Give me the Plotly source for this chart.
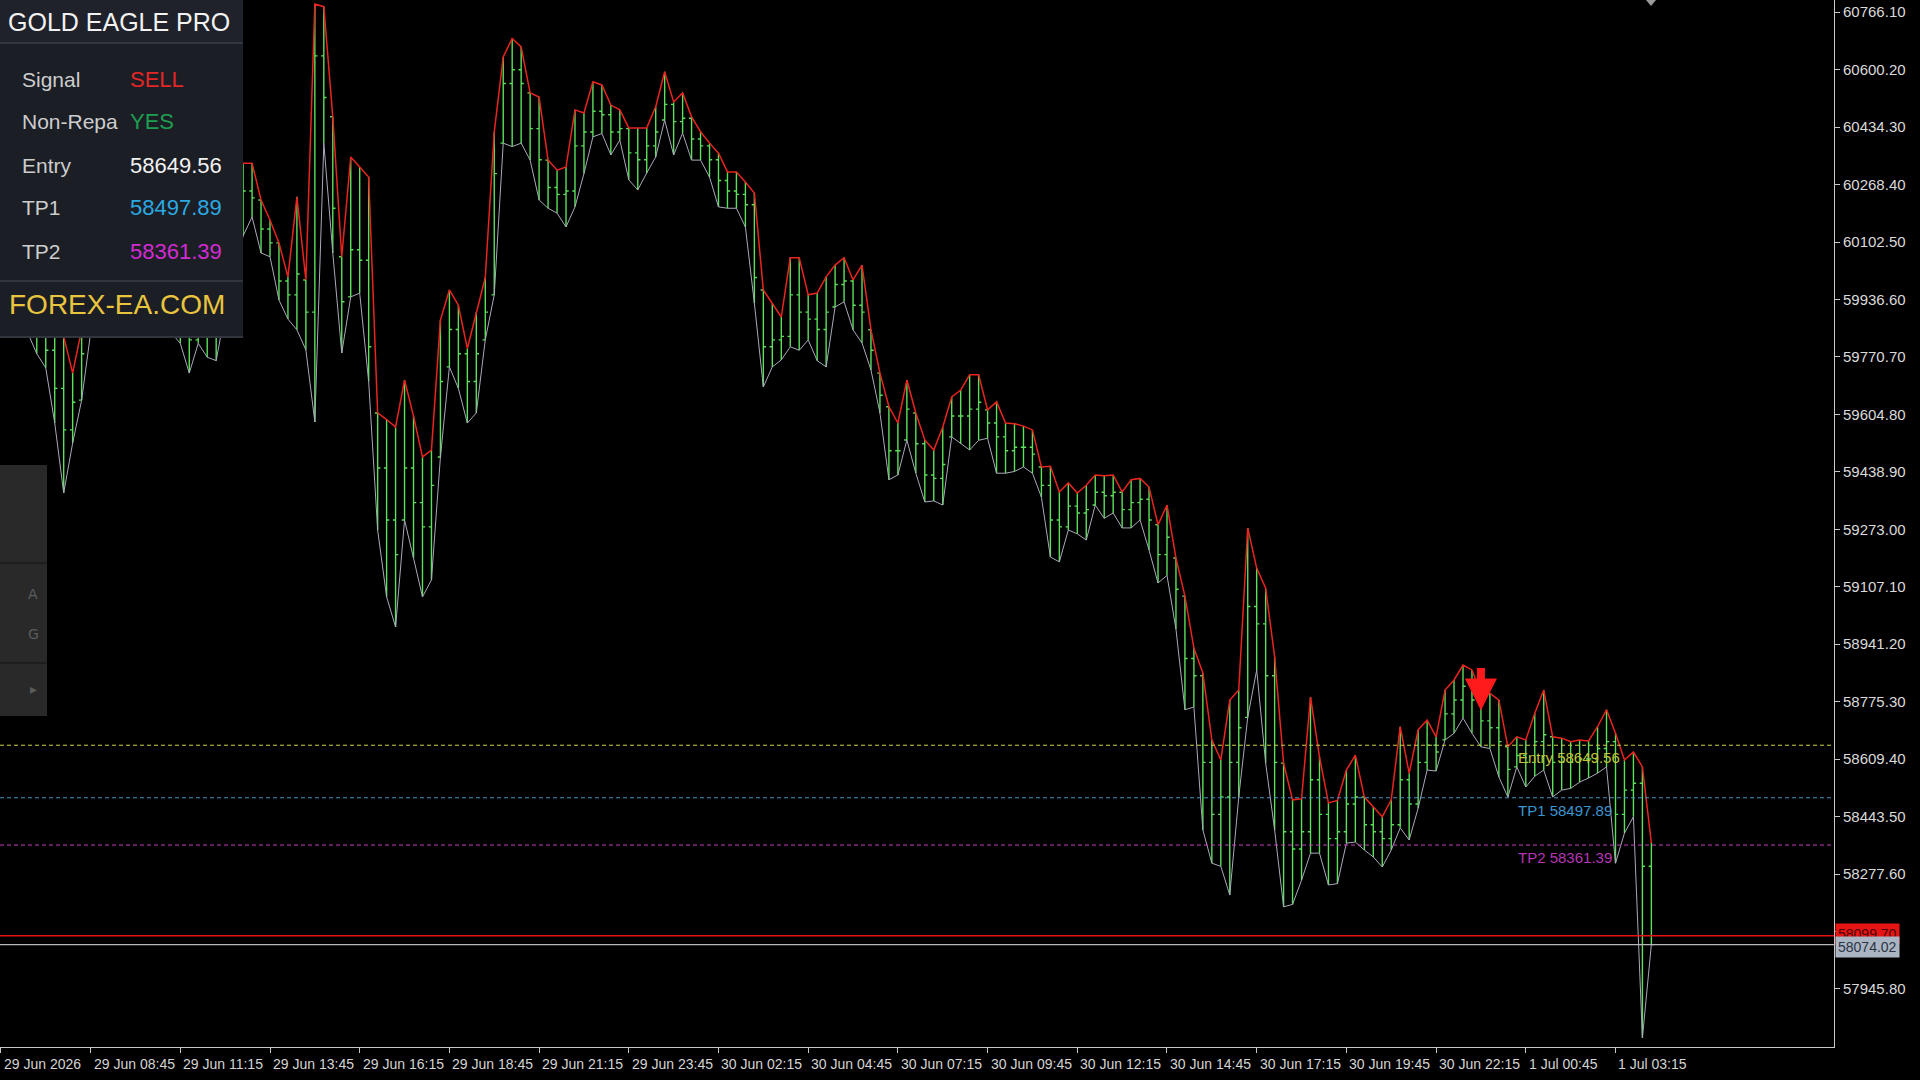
import plotly.graph_objects as go

# ---------------- data ----------------
bars = list(range(185))  # 15-minute bars from 29 Jun 2026 06:15

highs = [60050, 60020, 59980, 59960, 59930, 59900, 59850, 59830, 59724, 59850,
         59950, 60050, 60120, 60180, 60150, 60100, 60060, 60000, 59980, 59960,
         59950, 59900, 59960, 59990, 60050, 60200, 60280, 60330, 60330, 60224,
         60166, 60100, 60002, 60233, 59993, 60790, 60782, 60464, 60060, 60348,
         60319, 60290, 59609, 59590, 59568, 59704, 59600, 59482, 59502, 59877,
         59964, 59920, 59795, 59900, 60000, 60420, 60637, 60690, 60666, 60533,
         60521, 60339, 60310, 60319, 60484, 60475, 60565, 60556, 60498, 60484,
         60432, 60432, 60432, 60493, 60594, 60507, 60533, 60464, 60421, 60388,
         60359, 60305, 60305, 60276, 60244, 59964, 59926, 59886, 60057, 60057,
         59950, 59955, 60002, 60036, 60057, 59993, 60036, 59849, 59724, 59627,
         59580, 59704, 59609, 59531, 59502, 59568, 59655, 59675, 59719, 59719,
         59618, 59641, 59580, 59578, 59571, 59560, 59453, 59455, 59381, 59407,
         59378, 59400, 59430, 59428, 59430, 59381, 59416, 59420, 59395, 59286,
         59343, 59190, 59080, 58930, 58858, 58665, 58607, 58780, 58809, 59277,
         59161, 59103, 58905, 58598, 58492, 58495, 58789, 58616, 58483, 58490,
         58578, 58621, 58500, 58471, 58443, 58492, 58703, 58569, 58694, 58722,
         58674, 58809, 58838, 58881, 58867, 58800, 58800, 58780, 58645, 58674,
         58665, 58742, 58809, 58674, 58670, 58660, 58665, 58662, 58703, 58752,
         58684, 58607, 58630, 58587, 58367]

lows = [59880, 59850, 59830, 59840, 59780, 59739, 59580, 59378, 59522, 59646,
        59840, 59880, 59950, 60000, 59980, 59920, 59890, 59860, 59850, 59840,
        59810, 59724, 59810, 59770, 59760, 59900, 60000, 60120, 60175, 60071,
        60060, 59935, 59880, 59849, 59791, 59583, 60388, 60071, 59782, 59944,
        59955, 59700, 59271, 59078, 58991, 59300, 59190, 59078, 59127, 59482,
        59742, 59680, 59580, 59609, 59820, 59950, 60388, 60378, 60388, 60339,
        60224, 60200, 60186, 60146, 60204, 60300, 60406, 60416, 60354, 60397,
        60282, 60253, 60302, 60348, 60455, 60354, 60417, 60339, 60339, 60290,
        60204, 60200, 60200, 60146, 59926, 59684, 59742, 59762, 59800, 59790,
        59820, 59760, 59742, 59915, 59930, 59849, 59811, 59733, 59609, 59416,
        59430, 59531, 59435, 59352, 59355, 59343, 59540, 59520, 59502, 59530,
        59536, 59435, 59435, 59440, 59453, 59435, 59366, 59193, 59179, 59271,
        59260, 59242, 59343, 59305, 59320, 59277, 59277, 59300, 59213, 59118,
        59140, 58985, 58752, 58760, 58405, 58309, 58300, 58217, 58500, 58730,
        58867, 58598, 58405, 58183, 58190, 58260, 58338, 58338, 58246, 58250,
        58367, 58370, 58347, 58327, 58298, 58347, 58411, 58376, 58468, 58578,
        58575, 58665, 58684, 58728, 58684, 58645, 58640, 58558, 58500, 58587,
        58529, 58560, 58578, 58500, 58520, 58525, 58543, 58555, 58569, 58587,
        58309, 58396, 58443, 57805, 58074]

closes = [59960, 59920, 59900, 59880, 59850, 59790, 59680, 59560, 59640, 59780,
          59900, 59980, 60060, 60100, 60050, 59990, 59950, 59920, 59900, 59880,
          59860, 59820, 59900, 59880, 59960, 60100, 60200, 60250, 60230, 60140,
          60100, 59990, 59950, 60010, 59900, 60640, 60520, 60200, 59930, 60080,
          60050, 59800, 59450, 59300, 59200, 59450, 59350, 59280, 59400, 59700,
          59850, 59780, 59700, 59780, 59900, 60300, 60560, 60600, 60560, 60430,
          60340, 60260, 60240, 60250, 60380, 60420, 60480, 60470, 60420, 60430,
          60360, 60340, 60380, 60420, 60500, 60450, 60460, 60400, 60380, 60340,
          60280, 60250, 60240, 60210, 60000, 59800, 59820, 59830, 59950, 59900,
          59880, 59850, 59900, 59980, 59990, 59920, 59900, 59790, 59660, 59500,
          59500, 59620, 59520, 59430, 59420, 59460, 59600, 59600, 59620, 59640,
          59580, 59540, 59500, 59510, 59510, 59490, 59400, 59300, 59280, 59340,
          59320, 59330, 59380, 59370, 59380, 59330, 59350, 59360, 59300, 59200,
          59250, 59100, 58900, 58850, 58600, 58450, 58500, 58600, 58700, 59050,
          59000, 58850, 58600, 58400, 58350, 58400, 58550, 58450, 58380, 58400,
          58480, 58500, 58420, 58400, 58380, 58420, 58550, 58480, 58600, 58650,
          58630, 58740, 58780, 58820, 58780, 58720, 58700, 58660, 58580, 58620,
          58600, 58660, 58680, 58600, 58600, 58600, 58610, 58610, 58640, 58660,
          58450, 58520, 58540, 58300, 58074]

# each bar opens at the previous bar's close (kept inside the bar's range)
opens = [closes[0]] + [min(max(c, lo), hi) for c, lo, hi in zip(closes[:-1], lows[1:], highs[1:])]

tick_bars = [0, 10, 20, 30, 40, 50, 60, 70, 80, 90, 100, 110, 120, 130, 140, 150, 160, 170, 180]
tick_labels = ["29 Jun 2026", "29 Jun 08:45", "29 Jun 11:15", "29 Jun 13:45", "29 Jun 16:15",
               "29 Jun 18:45", "29 Jun 21:15", "29 Jun 23:45", "30 Jun 02:15", "30 Jun 04:45",
               "30 Jun 07:15", "30 Jun 09:45", "30 Jun 12:15", "30 Jun 14:45", "30 Jun 17:15",
               "30 Jun 19:45", "30 Jun 22:15", "1 Jul 00:45", "1 Jul 03:15"]

price_ticks = [60766.10, 60600.20, 60434.30, 60268.40, 60102.50, 59936.60, 59770.70,
               59604.80, 59438.90, 59273.00, 59107.10, 58941.20, 58775.30, 58609.40,
               58443.50, 58277.60, 58111.70, 57945.80]

entry_price = 58649.56
tp1_price = 58497.89
tp2_price = 58361.39
bid_price = 58074.02
ask_price = 58099.70

signal_bar = 165
signal_price = 58750

panel_labels = ["Signal", "Non-Repa", "Entry", "TP1", "TP2"]
panel_values = ["SELL", "YES", "58649.56", "58497.89", "58361.39"]

# ---------------- styling / geometry ----------------
W, H = 1920, 1080
PW, PH = 1834, 1047          # plot area in pixels
X_RANGE = [-0.1, 204.36]
Y_RANGE = [57778.3, 60801.3]

def pxx(x):
    return x / PW

def pyy(y):
    return 1 - y / PH

GREEN = "#5ae05a"
RED = "#e8251e"
GREY = "#a9a9bb"
AXIS = "#c8c8c8"
NARROW = "Liberation Sans Narrow, Arial Narrow, Liberation Sans, sans-serif"
SANS = "Liberation Sans, Arial, sans-serif"

fig = go.Figure()

fig.add_trace(go.Ohlc(
    x=bars, open=opens, high=highs, low=lows, close=closes,
    increasing=dict(line=dict(color=GREEN, width=1.4)),
    decreasing=dict(line=dict(color=GREEN, width=1.4)),
    tickwidth=0.3, hoverinfo="skip", showlegend=False))

fig.add_trace(go.Scatter(x=bars, y=lows, mode="lines",
                         line=dict(color=GREY, width=1), hoverinfo="skip", showlegend=False))
fig.add_trace(go.Scatter(x=bars, y=highs, mode="lines",
                         line=dict(color=RED, width=1.5), hoverinfo="skip", showlegend=False))

shapes = []
annotations = []

# level lines
for price, col in [(entry_price, "#cfcf4a"), (tp1_price, "#4a93c8"), (tp2_price, "#c23ec2")]:
    shapes.append(dict(type="line", xref="paper", x0=0, x1=1, yref="y", y0=price, y1=price,
                       line=dict(color=col, width=1, dash="4px,3px"), layer="above"))

level_texts = [("Entry " + f"{entry_price:.2f}", entry_price, "#c2c23a"),
               ("TP1 " + f"{tp1_price:.2f}", tp1_price, "#3b95d0"),
               ("TP2 " + f"{tp2_price:.2f}", tp2_price, "#b535b5")]
for txt, price, col in level_texts:
    annotations.append(dict(x=168.9, y=price, xref="x", yref="y", text=txt, showarrow=False,
                            xanchor="left", yanchor="top", yshift=-2,
                            font=dict(family=NARROW, size=15, color=col)))

# bid / ask lines
shapes.append(dict(type="line", xref="paper", x0=0, x1=1, yref="y", y0=ask_price, y1=ask_price,
                   line=dict(color="#e01414", width=1.5), layer="above"))
shapes.append(dict(type="line", xref="paper", x0=0, x1=1, yref="y", y0=bid_price, y1=bid_price,
                   line=dict(color="#b8b8b8", width=1.2), layer="above"))

annotations.append(dict(x=1, xref="paper", y=ask_price, yref="y", text=f"{ask_price:.2f}",
                        showarrow=False, xanchor="left", xshift=1, yshift=2, bgcolor="#e61414",
                        font=dict(family=NARROW, size=14, color="#4a0606"), borderpad=2))
annotations.append(dict(x=1, xref="paper", y=bid_price, yref="y", text=f"{bid_price:.2f}",
                        showarrow=False, xanchor="left", xshift=1, yshift=-2, bgcolor="#aab4c2",
                        font=dict(family=NARROW, size=14, color="#2b3444"), borderpad=2))

# sell arrow
annotations.append(dict(x=signal_bar, y=signal_price, xref="x", yref="y", text="",
                        showarrow=True, ax=0, ay=-44, arrowhead=2, arrowsize=0.8,
                        arrowwidth=8, arrowcolor="#ff1b1b", standoff=0))

# x tick labels (left aligned after tick)
for b, lab in zip(tick_bars, tick_labels):
    annotations.append(dict(x=b, xref="x", y=0, yref="paper", text=lab, showarrow=False,
                            xanchor="left", yanchor="top", xshift=1, yshift=-7,
                            font=dict(family=NARROW, size=14, color="#d4d4d4")))

# chart-shift marker at top
shapes.append(dict(type="path", xref="paper", yref="paper",
                   path=f"M {pxx(1646)} {pyy(0)} L {pxx(1656)} {pyy(0)} L {pxx(1651)} {pyy(6)} Z",
                   fillcolor="#9a9a9a", line=dict(width=0), layer="above"))

# left side toolbar
shapes.append(dict(type="rect", xref="paper", yref="paper", x0=0, x1=pxx(47), y0=pyy(716), y1=pyy(465),
                   fillcolor="#292929", line=dict(width=0), layer="above"))
for yy in (563, 663):
    shapes.append(dict(type="line", xref="paper", yref="paper", x0=0, x1=pxx(47), y0=pyy(yy), y1=pyy(yy),
                       line=dict(color="#1b1b1b", width=1.5), layer="above"))
for txt, yy in [("A", 594), ("G", 634), ("▸", 689)]:
    annotations.append(dict(x=pxx(33), y=pyy(yy), xref="paper", yref="paper", text=txt, showarrow=False,
                            xanchor="center", yanchor="middle",
                            font=dict(family="DejaVu Sans", size=14, color="#5c5c5c")))

# info panel
shapes.append(dict(type="rect", xref="paper", yref="paper", x0=0, x1=pxx(243), y0=pyy(338), y1=pyy(0),
                   fillcolor="#1b1e25", line=dict(width=0), layer="above"))
shapes.append(dict(type="rect", xref="paper", yref="paper", x0=0, x1=pxx(243), y0=pyy(43), y1=pyy(0),
                   fillcolor="#1f222a", line=dict(width=0), layer="above"))
for yy in (43, 281, 337):
    shapes.append(dict(type="line", xref="paper", yref="paper", x0=0, x1=pxx(243), y0=pyy(yy), y1=pyy(yy),
                       line=dict(color="#3a3e47", width=1.5), layer="above"))

annotations.append(dict(x=pxx(6), y=pyy(22), xref="paper", yref="paper", text="GOLD EAGLE PRO",
                        showarrow=False, xanchor="left", yanchor="middle",
                        font=dict(family=SANS, size=25, color="#f2f2f2")))
row_y = [79, 121, 165, 208, 251]
value_colors = ["#e32626", "#1f9e52", "#f2f2f2", "#2ba9e2", "#d22bd2"]
for lab, val, yy, vc in zip(panel_labels, panel_values, row_y, value_colors):
    annotations.append(dict(x=pxx(20), y=pyy(yy), xref="paper", yref="paper", text=lab,
                            showarrow=False, xanchor="left", yanchor="middle",
                            font=dict(family=SANS, size=21, color="#cdcdcd")))
    annotations.append(dict(x=pxx(128), y=pyy(yy), xref="paper", yref="paper", text=val,
                            showarrow=False, xanchor="left", yanchor="middle",
                            font=dict(family=SANS, size=22, color=vc)))
annotations.append(dict(x=pxx(7), y=pyy(305), xref="paper", yref="paper", text="FOREX-EA.COM",
                        showarrow=False, xanchor="left", yanchor="middle",
                        font=dict(family=SANS, size=28, color="#e9c43e")))

fig.update_layout(
    width=W, height=H,
    margin=dict(l=0, r=W - PW, t=0, b=H - PH),
    paper_bgcolor="#000000", plot_bgcolor="#000000",
    showlegend=False, hovermode=False,
    shapes=shapes, annotations=annotations,
    xaxis=dict(range=X_RANGE, showgrid=False, zeroline=False, showline=True, linecolor=AXIS,
               linewidth=1, ticks="outside", ticklen=5, tickcolor=AXIS, tickvals=tick_bars,
               showticklabels=False, rangeslider=dict(visible=False), fixedrange=True),
    yaxis=dict(range=Y_RANGE, side="right", showgrid=False, zeroline=False, showline=True,
               linecolor=AXIS, linewidth=1, ticks="outside", ticklen=5, tickcolor=AXIS,
               tickvals=price_ticks,
               ticktext=["" if v == 58111.70 else f"{v:.2f}" for v in price_ticks],
               tickfont=dict(family=NARROW, size=15, color="#dadada"), fixedrange=True),
)

fig.write_html("out.html", config={"displayModeBar": False},
               post_script="document.body.style.margin='0';document.body.style.overflow='hidden';")
